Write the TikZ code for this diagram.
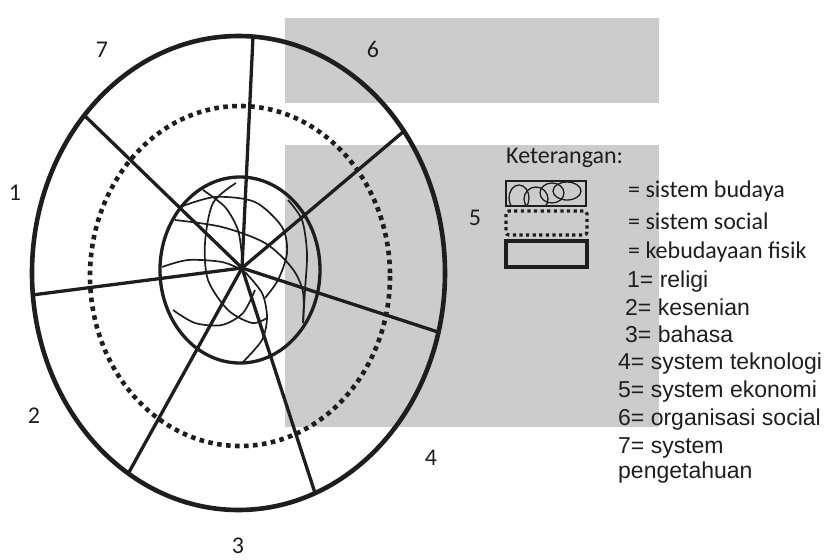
\documentclass[tikz,border=0pt]{standalone}
\usepackage{fontspec}
\setmainfont{Carlito}
\newfontfamily\arialfont{Liberation Sans}
\definecolor{ink}{RGB}{30, 30, 30}
\definecolor{gray80}{gray}{0.8}

\begin{document}
\begin{tikzpicture}[x=1pt, y=-1pt,
    spoke/.style={ink, line width=3.3},
    swirl/.style={ink, line width=1.7},
    lbl/.style={inner sep=0, text=ink, font=\fontsize{24}{28}\selectfont},
    legtext/.style={inner sep=0, anchor=base west, text=ink, font=\fontsize{24}{28}\selectfont},
    listtext/.style={inner sep=0, anchor=base west, text=ink, font=\arialfont\fontsize{23}{27}\selectfont}]

  \useasboundingbox (0, 0) rectangle (831, 560);

  % grey blocks behind
  \fill[gray80] (285, 18) rectangle (659, 103);
  \fill[gray80] (285, 145) rectangle (659, 427);

  % kebudayaan fisik / sistem social / sistem budaya
  \draw[ink, line width=4.6] (238.5, 273) ellipse [x radius=206.5, y radius=237];
  \draw[ink, line width=4.6, dash pattern=on 4.6pt off 4.4pt] (240, 276) ellipse [x radius=150, y radius=170];
  \draw[ink, line width=3.3] (240, 270) ellipse [x radius=80, y radius=93];

  % swirls inside
  \draw[swirl] plot[smooth] coordinates {(175, 220) (222, 227) (265, 243) (292, 268) (303, 292) (303, 323)};
  \draw[swirl] plot[smooth] coordinates {(180, 207) (215, 197) (255, 202) (282, 227) (287, 253) (278, 280) (265, 298)};
  \draw[swirl] plot[smooth] coordinates {(236, 183) (213, 203) (205, 243) (208, 280) (228, 310) (252, 323) (267, 318)};
  \draw[swirl] plot[smooth] coordinates {(245, 272) (262, 293) (267, 317) (262, 340) (243, 362)};
  \draw[swirl] plot[smooth] coordinates {(173, 310) (195, 323) (222, 325) (243, 313) (255, 290)};
  \draw[swirl] plot[smooth] coordinates {(162, 267) (188, 260) (222, 262) (242, 270)};
  \draw[swirl] plot[smooth] coordinates {(203, 190) (225, 207) (238, 230) (242, 257)};
  \draw[swirl] plot[smooth] coordinates {(288, 200) (302, 220) (307, 253) (305, 290) (303, 323)};

  % spokes
  \coordinate (hub) at (242, 268);
  \coordinate (s1) at (85, 116);
  \coordinate (s2) at (253, 37);
  \coordinate (s3) at (403, 132);
  \coordinate (s4) at (438, 332);
  \coordinate (s5) at (315, 493);
  \coordinate (s6) at (128, 474);
  \coordinate (s7) at (32, 295);
  \foreach \i in {1,...,7} {
    \draw[spoke] (hub) -- (s\i);
  }

  % sector numbers
  \node[lbl] (n1) at (15, 193) {1};
  \node[lbl] (n2) at (34, 416) {2};
  \node[lbl] (n3) at (238, 546) {3};
  \node[lbl] (n4) at (431, 458) {4};
  \node[lbl] (n5) at (475, 218) {5};
  \node[lbl] (n6) at (373, 49) {6};
  \node[lbl] (n7) at (102, 50) {7};

  % legend
  \node[legtext] (ket) at (506, 163) {Keterangan:};

  \begin{scope}
    \clip (506, 181) rectangle (586, 206);
    \foreach \cx/\cy/\rx/\ry in {519/198/10/13, 536/199/12/12, 552/193/12/10, 567/191/14/9} {
      \draw[ink, line width=1.3] (\cx, \cy) ellipse [x radius=\rx, y radius=\ry];
    }
  \end{scope}
  \draw[ink, line width=1.6] (506, 181) rectangle (586, 206);
  \draw[ink, line width=3.2, dash pattern=on 3.2pt off 3.4pt, rounded corners=3] (506, 211) rectangle (587, 235);
  \draw[ink, line width=3.8] (506, 241) rectangle (587, 267);

  \node[legtext] (budaya) at (628, 197) {= sistem budaya};
  \node[legtext] (social) at (628, 229) {= sistem social};
  \node[legtext] (fisik) at (628, 258) {= kebudayaan fisik};

  \node[listtext] (l1) at (627, 287) {1= religi};
  \node[listtext] (l2) at (625, 315) {2= kesenian};
  \node[listtext] (l3) at (625, 342) {3= bahasa};
  \node[listtext] (l4) at (618, 369) {4= system teknologi};
  \node[listtext] (l5) at (618, 397) {5= system ekonomi};
  \node[listtext] (l6) at (618, 425) {6= organisasi social};
  \node[listtext] (l7) at (618, 453) {7= system};
  \node[listtext] (l7b) at (618, 478) {pengetahuan};

\end{tikzpicture}
\end{document}
